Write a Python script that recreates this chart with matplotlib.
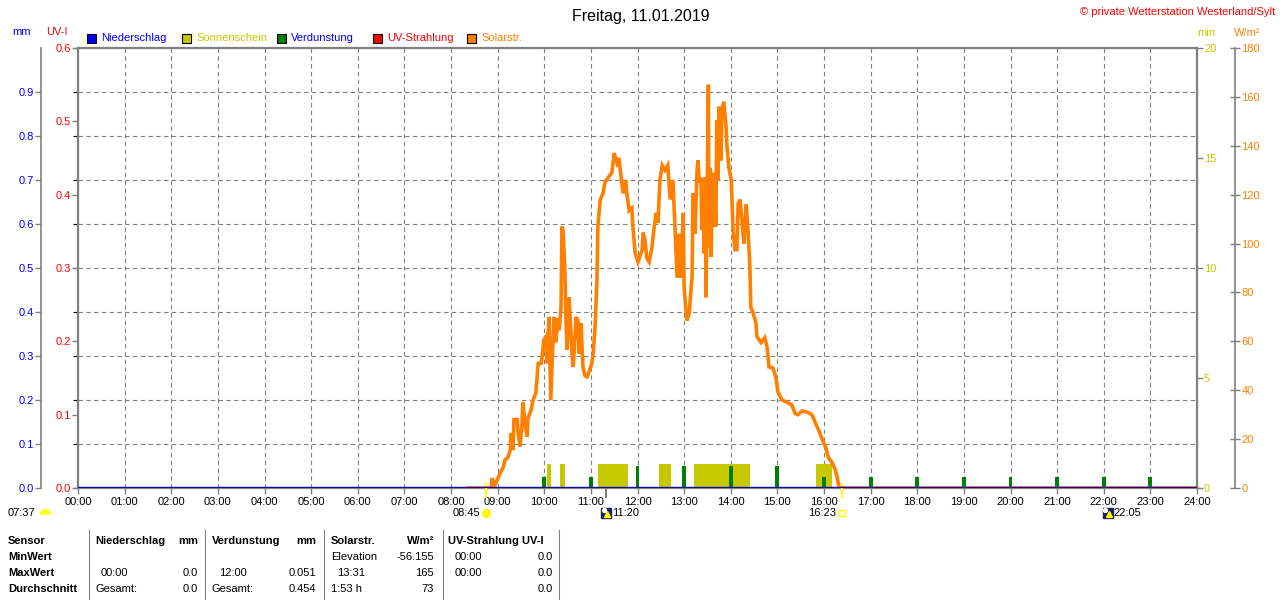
import matplotlib.pyplot as plt
from matplotlib.lines import Line2D
from matplotlib.patches import Rectangle
from matplotlib.markers import MarkerStyle
from matplotlib.transforms import offset_copy

plt.rcParams['font.family'] = ['Liberation Sans', 'DejaVu Sans']

W, H = 1280, 600          # Bildgröße in Pixel
FS = 8                    # Schriftgröße

GREY = '#808080'
C_RAIN = '#0000FF'
C_SUN = '#C8C800'
C_EVAP = '#008000'
C_UV = '#FF0000'
C_SOLAR = '#FF8000'

TITLE = "Freitag, 11.01.2019"
COPYRIGHT = "© private Wetterstation Westerland/Sylt"
hour_labels = [f"{h:02d}:00" for h in range(25)]

# Sonnenschein (min) – Intervalle in Stunden
sun_start = [10.06, 10.34, 11.15, 12.46, 13.22, 15.82]
sun_end = [10.14, 10.45, 11.79, 12.71, 14.41, 16.17]
sun_min = [1.1, 1.1, 1.1, 1.1, 1.1, 1.1]

# Verdunstung (mm) je Stunde
evap_hour = [10, 11, 12, 13, 14, 15, 16, 17, 18, 19, 20, 21, 22, 23]
evap_mm = [0.025, 0.025, 0.051, 0.051, 0.051, 0.051, 0.025,
           0.025, 0.025, 0.025, 0.025, 0.025, 0.025, 0.025]

# Niederschlag (mm) und UV-Index
rain_hour = [0, 24]
rain_mm = [0.0, 0.0]
uv_hour = [0, 24]
uv_index = [0.0, 0.0]

# Solarstrahlung (W/m²)
solar_time = [8.36, 8.75, 8.86, 8.88, 8.94, 9.05, 9.12, 9.16, 9.22, 9.27,
              9.29, 9.33, 9.35, 9.42, 9.44, 9.48, 9.52, 9.54, 9.59, 9.63,
              9.65, 9.72, 9.76, 9.82, 9.84, 9.87, 9.93, 9.95, 9.99, 10.04,
              10.06, 10.10, 10.14, 10.19, 10.21, 10.25, 10.29, 10.32, 10.36, 10.38,
              10.40, 10.44, 10.47, 10.49, 10.53, 10.57, 10.60, 10.62, 10.66, 10.68,
              10.72, 10.75, 10.79, 10.81, 10.83, 10.87, 10.92, 10.96, 11.02, 11.05,
              11.09, 11.13, 11.15, 11.20, 11.26, 11.30, 11.37, 11.45, 11.50, 11.56,
              11.60, 11.65, 11.69, 11.75, 11.77, 11.82, 11.88, 11.90, 11.95, 12.01,
              12.10, 12.12, 12.16, 12.20, 12.25, 12.31, 12.35, 12.40, 12.44, 12.48,
              12.53, 12.59, 12.65, 12.70, 12.76, 12.80, 12.85, 12.89, 12.93, 12.98,
              13.00, 13.06, 13.11, 13.15, 13.17, 13.19, 13.23, 13.28, 13.30, 13.32,
              13.36, 13.38, 13.40, 13.43, 13.45, 13.47, 13.49, 13.52, 13.53, 13.55,
              13.58, 13.60, 13.62, 13.64, 13.68, 13.70, 13.72, 13.75, 13.79, 13.81,
              13.85, 13.90, 13.92, 13.96, 14.01, 14.05, 14.09, 14.13, 14.16, 14.20,
              14.24, 14.28, 14.33, 14.37, 14.41, 14.43, 14.48, 14.54, 14.56, 14.65,
              14.73, 14.78, 14.82, 14.91, 14.97, 15.01, 15.10, 15.21, 15.31, 15.38,
              15.44, 15.53, 15.64, 15.74, 15.83, 15.91, 15.98, 16.04, 16.09, 16.17,
              16.24, 16.28, 16.32, 16.39, 24.00]
solar_wm2 = [0, 0, 0, 4, 1, 6, 8.5, 11.5, 12.5, 15.5,
             22.5, 15.5, 28, 28, 22.5, 17, 25, 35, 26.5, 21,
             28.5, 32, 36, 39, 44, 51, 51, 53, 60.5, 62,
             51, 70, 36, 62, 70, 59.5, 69.5, 64.5, 74, 107,
             105.5, 90.5, 66, 56.5, 78, 64.5, 53.5, 49.5, 62, 70,
             68.5, 55, 67.5, 57.5, 49.5, 46, 45.5, 47.5, 51, 55,
             66, 85, 107, 118, 120.5, 125, 127, 129, 137, 133,
             135, 127, 120.5, 126, 120.5, 113.5, 114.5, 107, 96, 92.5,
             97.5, 104.5, 101.5, 94, 92.5, 98.5, 105.5, 112.5, 108.5, 126,
             132, 130, 132, 118, 126, 108.5, 86, 104, 86, 112.5,
             82, 68.5, 71.5, 82, 86, 120.5, 104, 131, 134, 125,
             127, 105.5, 126, 96, 127, 78, 112.5, 165, 98.5, 131,
             94.5, 126, 107, 129, 107, 150.5, 126, 156, 134, 154.5,
             158, 147.5, 139.5, 131, 126, 105.5, 97.5, 97.5, 116.5, 118,
             109.5, 100, 116, 105.5, 90.5, 74, 71.5, 67.5, 62, 59.5,
             61.5, 57.5, 49.5, 49, 45, 39.5, 36, 35, 34, 30.5,
             30, 31.5, 31, 30, 26, 22.5, 19, 16.5, 12.5, 10.5,
             7.5, 4.5, 0.5, 0, 0]

# Sonnenaufgang / Mittag / Sonnenuntergang / Mond
sunrise, solar_noon, sunset, moonset = 8.75, 11.333, 16.383, 22.083
dawn_label = "07:37"

# Tabelle unten
table_rows = ["Sensor", "MinWert", "MaxWert", "Durchschnitt"]


def fx(x):
    return x / W


def fy(y):
    return 1 - y / H


fig = plt.figure(figsize=(W / 100, H / 100), dpi=100)
rect = [fx(78), fy(488), (1197 - 78) / W, 440 / H]

# Grundachse mit Gitter
base = fig.add_axes(rect)
base.set_xlim(0, 24)
base.set_ylim(0, 1)
base.set_xticks(range(25))
base.set_xticklabels(hour_labels)
base.set_yticks([i / 10 for i in range(11)])
base.tick_params(axis='y', left=False, labelleft=False)
base.tick_params(axis='x', colors=GREY, labelcolor='black', labelsize=FS,
                 length=4, width=1, pad=2.5)
base.grid(True, color=GREY, linestyle=(0, (4, 3)), linewidth=0.8)
for s in base.spines.values():
    s.set_color(GREY)
    s.set_linewidth(1.6)


def overlay():
    a = base.twinx()
    for s in a.spines.values():
        s.set_visible(False)
    return a


# Sonnenschein (min)
ax_sun = overlay()
ax_sun.set_ylim(0, 20)
ax_sun.set_yticks([0, 5, 10, 15, 20])
ax_sun.tick_params(axis='y', colors=GREY, labelcolor=C_SUN, labelsize=FS,
                   length=4, width=1, pad=1)
ax_sun.bar(sun_start, sun_min, width=[e - s for s, e in zip(sun_start, sun_end)],
           align='edge', color=C_SUN, linewidth=0)

# Solarstrahlung (W/m²)
ax_w = overlay()
ax_w.set_ylim(0, 180)
ax_w.set_yticks(range(0, 181, 20))
ax_w.spines['right'].set_visible(True)
ax_w.spines['right'].set_position(('outward', 27.5))
ax_w.spines['right'].set_color(GREY)
ax_w.spines['right'].set_linewidth(1.2)
ax_w.tick_params(axis='y', colors=GREY, labelcolor=C_SOLAR, labelsize=FS,
                 length=7, width=1, direction='inout', pad=1)
ax_w.plot(solar_time, solar_wm2, color=C_SOLAR, linewidth=2.6,
          solid_joinstyle='miter')

# UV-Strahlung
ax_uv = overlay()
ax_uv.yaxis.tick_left()
ax_uv.set_ylim(0, 0.6)
ax_uv.set_yticks([i / 10 for i in range(7)])
ax_uv.set_yticklabels([f"{i / 10:.1f}" for i in range(7)])
ax_uv.tick_params(axis='y', colors=GREY, labelcolor=C_UV, labelsize=FS,
                  length=4, width=1, pad=1)
ax_uv.plot(uv_hour, uv_index, color=C_UV, linewidth=1.5)

# Niederschlag / Verdunstung (mm)
ax_mm = overlay()
ax_mm.yaxis.tick_left()
ax_mm.set_ylim(0, 1.0)
ax_mm.set_yticks([i / 10 for i in range(10)])
ax_mm.set_yticklabels([f"{i / 10:.1f}" for i in range(10)])
ax_mm.spines['left'].set_visible(True)
ax_mm.spines['left'].set_position(('outward', 26.5))
ax_mm.spines['left'].set_color(GREY)
ax_mm.spines['left'].set_linewidth(1.2)
ax_mm.tick_params(axis='y', colors=GREY, labelcolor=C_RAIN, labelsize=FS,
                  length=4, width=1, pad=1)
ax_mm.bar(evap_hour, evap_mm, width=0.085, color=C_EVAP, linewidth=0)
ax_mm.plot(rain_hour, rain_mm, color='#0000C0', linewidth=1.6)

# Markierungen unter der Zeitachse
xt = base.get_xaxis_transform()


def at(dx, dy):
    return offset_copy(xt, fig=fig, x=dx, y=dy, units='dots')


for t, col in [(sunrise, '#FFFF00'), (sunset, '#FFFF00'), (solar_noon, GREY)]:
    top = 0.01 if col != GREY else 0.0
    base.plot([t, t], [top, -0.021], transform=xt, color=col,
              linewidth=1.5, clip_on=False, zorder=5)

base.text(sunrise, 0, "08:45", transform=at(-6, -25), ha='right', va='center',
          fontsize=FS)
base.plot([sunrise], [0], transform=at(0, -25), marker='o', ms=8,
          color='#FFFFA0', mec='none', clip_on=False)
base.plot([sunrise], [0], transform=at(0, -25), marker='o', ms=5,
          color='#FFFF00', mec='#FFD000', mew=0.5, clip_on=False)

base.text(sunset, 0, "16:23", transform=at(-6, -25), ha='right', va='center',
          fontsize=FS)
base.plot([sunset], [0], transform=at(0, -25), marker='s', ms=5, mfc='white',
          mec='#FFFF00', mew=1, clip_on=False)

for t, lab in [(solar_noon, "11:20"), (moonset, "22:05")]:
    base.plot([t], [0], transform=at(0, -25), marker='s', ms=7.5,
              color='#1C2060', clip_on=False)
    base.plot([t], [0], transform=at(-2.5, -21.5), marker='o', ms=2.8,
              color='white', clip_on=False)
    base.plot([t], [0], transform=at(1, -26), marker='^', ms=4,
              color='#FFFF00', clip_on=False)
    base.text(t, 0, lab, transform=at(6, -25), ha='left', va='center',
              fontsize=FS)

fig.text(fx(8), fy(513), dawn_label, ha='left', va='center', fontsize=FS)
fig.add_artist(Line2D([fx(45)], [fy(514)], marker=MarkerStyle('o', fillstyle='top'),
                      ms=8, mfc='#FFFF00', mfcalt='none', mec='none',
                      transform=fig.transFigure))

# Titel und Kopfzeile
fig.text(fx(641), fy(16), TITLE, ha='center', va='center', fontsize=11.5)
fig.text(fx(1275), fy(12), COPYRIGHT, ha='right', va='center', fontsize=8,
         color=C_UV)
fig.text(fx(22), fy(32), "mm", ha='center', va='center', fontsize=FS, color=C_RAIN)
fig.text(fx(57), fy(32), "UV-I", ha='center', va='center', fontsize=FS, color=C_UV)
fig.text(fx(1206), fy(33), "min", ha='center', va='center', fontsize=FS, color=C_SUN)
fig.text(fx(1247), fy(33), "W/m²", ha='center', va='center', fontsize=FS,
         color=C_SOLAR)

legend = [("Niederschlag", C_RAIN, C_RAIN, 87),
          ("Sonnenschein", C_SUN, C_SUN, 182),
          ("Verdunstung", C_EVAP, C_RAIN, 277),
          ("UV-Strahlung", C_UV, C_UV, 373),
          ("Solarstr.", C_SOLAR, C_SOLAR, 467)]
for label, box, txt, x0 in legend:
    fig.add_artist(Rectangle((fx(x0), fy(43)), 9 / W, 9 / H, facecolor=box,
                             edgecolor='black', linewidth=0.8,
                             transform=fig.transFigure))
    fig.text(fx(x0 + 14), fy(38), label, ha='left', va='center', fontsize=FS,
             color=txt)

# Tabelle
row_y = [541, 557, 573, 589]
for r, y in zip(table_rows, row_y):
    fig.text(fx(8), fy(y), r, ha='left', va='center', fontsize=FS,
             fontweight='bold')

cells = [
    # (x, y, text, ha, bold)
    (95, 541, "Niederschlag", 'left', True), (198, 541, "mm", 'right', True),
    (101, 573, "00:00", 'left', False), (198, 573, "0.0", 'right', False),
    (95, 589, "Gesamt:", 'left', False), (198, 589, "0.0", 'right', False),
    (212, 541, "Verdunstung", 'left', True), (316, 541, "mm", 'right', True),
    (219, 573, "12:00", 'left', False), (316, 573, "0.051", 'right', False),
    (212, 589, "Gesamt:", 'left', False), (316, 589, "0.454", 'right', False),
    (331, 541, "Solarstr.", 'left', True), (434, 541, "W/m²", 'right', True),
    (331, 557, "Elevation", 'left', False), (434, 557, "-56.155", 'right', False),
    (337, 573, "13:31", 'left', False), (434, 573, "165", 'right', False),
    (331, 589, "1:53 h", 'left', False), (434, 589, "73", 'right', False),
    (448, 541, "UV-Strahlung UV-I", 'left', True),
    (455, 557, "00:00", 'left', False), (553, 557, "0.0", 'right', False),
    (455, 573, "00:00", 'left', False), (553, 573, "0.0", 'right', False),
    (553, 589, "0.0", 'right', False),
]
for x, y, txt, ha, bold in cells:
    fig.text(fx(x), fy(y), txt, ha=ha, va='center', fontsize=FS,
             fontweight='bold' if bold else 'normal')

for xs in [89, 205, 324, 443, 559]:
    fig.add_artist(Line2D([fx(xs), fx(xs)], [fy(530), fy(600)], color=GREY,
                          linewidth=0.8, transform=fig.transFigure))

fig.savefig("out.png", dpi=100)
